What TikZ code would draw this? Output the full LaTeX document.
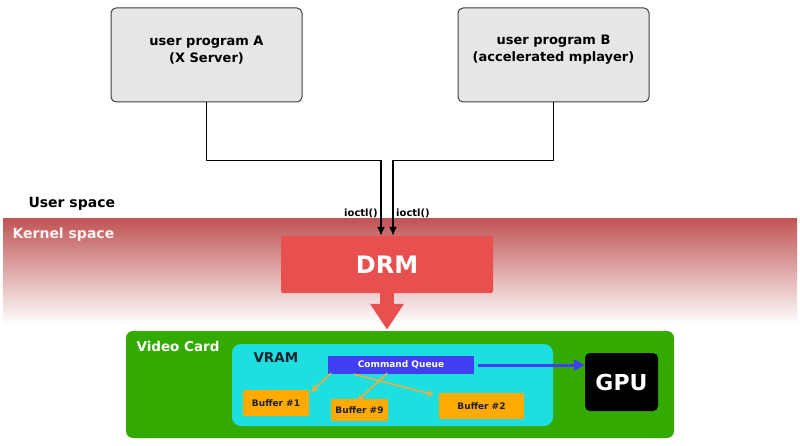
\documentclass[tikz,border=0pt]{standalone}
\usepackage{fontspec}
\setmainfont{DejaVu Sans}
\usetikzlibrary{arrows.meta}
\definecolor{progGray}{HTML}{E6E6E6}
\definecolor{kernelRed}{HTML}{C05555}
\definecolor{drmRed}{HTML}{E85050}
\definecolor{cardGreen}{HTML}{33AA00}
\definecolor{vramCyan}{HTML}{1EDFDF}
\definecolor{queueBlue}{HTML}{4040F2}
\definecolor{bufOrange}{HTML}{FFAA00}
\definecolor{bufArrow}{HTML}{E8B040}
\definecolor{darkText}{HTML}{1A2030}

\begin{document}
\begin{tikzpicture}[x=1pt, y=-1pt,
  prog/.style={draw=black!75, line width=1pt, fill=progGray, rounded corners=5pt, minimum width=191pt, minimum height=94pt, inner sep=0pt},
  buffer/.style={fill=bufOrange, rounded corners=1pt, text=darkText, font=\bfseries\fontsize{9}{10}\selectfont, inner sep=0pt},
  label/.style={font=\bfseries\fontsize{14}{16}\selectfont},
  ioctl/.style={font=\bfseries\fontsize{10}{11}\selectfont, inner sep=1pt}]
\useasboundingbox (0,0) rectangle (800,446);
% kernel band
\shade[top color=kernelRed, bottom color=white] (3,219) rectangle (797,324);
\node[label, anchor=west] at (25,204) {User space};
\node[label, anchor=west, text=white!95!red] at (9,235) {Kernel space};
% user programs
\node[prog] (progA) at (206.5,55) {};
\node[font=\bfseries\fontsize{13}{17}\selectfont, align=center] at (206.5,50) {user program A\\(X Server)};
\node[prog] (progB) at (553.5,55) {};
\node[font=\bfseries\fontsize{13}{17}\selectfont, align=center] at (553.5,50) {user program B\\(accelerated mplayer)};
% DRM
\node[fill=drmRed, rounded corners=2pt, minimum width=212pt, minimum height=57pt, text=white, font=\bfseries\fontsize{24}{28}\selectfont] (drm) at (387,264.5) {DRM};
\draw[line width=1.5pt, -{Latex[length=9pt,width=8pt]}] (progA.south) -- ++(0,58) -| ([xshift=-6pt]drm.north);
\draw[line width=1.5pt, -{Latex[length=9pt,width=8pt]}] (progB.south) -- ++(0,58) -| ([xshift=6pt]drm.north);
\node[ioctl, anchor=east] at (379,213) {ioctl()};
\node[ioctl, anchor=west] at (395,213) {ioctl()};
% video card
\node[fill=cardGreen, rounded corners=7pt, minimum width=548pt, minimum height=107pt] (card) at (400,384.5) {};
\node[text=white, font=\bfseries\fontsize{13.5}{16}\selectfont, anchor=west] at (133,346) {Video Card};
\draw[drmRed, line width=14pt, -{Triangle[width=32pt,length=26pt]}] ([yshift=2pt]drm.south) -- ([yshift=1pt]card.north -| drm.south);
\node[fill=vramCyan, rounded corners=9pt, minimum width=321pt, minimum height=82pt] (vram) at (392.5,385) {};
\node[text=darkText, font=\bfseries\fontsize{13.5}{16}\selectfont, anchor=west] at (250,358) {VRAM};
\node[fill=queueBlue, minimum width=146pt, minimum height=18pt, inner sep=0pt, text=white, font=\bfseries\fontsize{9}{10}\selectfont] (queue) at (401,365) {Command Queue};
\node[fill=black, rounded corners=5pt, minimum width=73pt, minimum height=58pt, text=white, font=\bfseries\fontsize{22}{26}\selectfont] (gpu) at (621.5,382) {GPU};
\draw[queueBlue, line width=3pt, -{Triangle[width=11pt,length=11pt]}] ([xshift=4pt]queue.east) -- (queue.east -| gpu.west);
% buffers
\node[buffer, minimum width=66pt, minimum height=26pt] (buf1) at (276,403) {Buffer \#1};
\node[buffer, minimum width=57pt, minimum height=22pt] (buf9) at (359.5,410) {Buffer \#9};
\node[buffer, minimum width=85pt, minimum height=26pt] (buf2) at (481.5,406) {Buffer \#2};
\draw[bufArrow, line width=1.6pt, -{Triangle[width=6pt,length=6pt]}] ([xshift=-70pt,yshift=1pt]queue.south) -- ([xshift=2pt,yshift=-2pt]buf1.north east);
\draw[bufArrow, line width=1.6pt, -{Triangle[width=6pt,length=6pt]}] ([xshift=-14pt,yshift=1pt]queue.south) -- ([xshift=-2pt,yshift=-2pt]buf9.north);
\draw[bufArrow, line width=1.6pt, -{Triangle[width=6pt,length=6pt]}] ([xshift=-47pt]queue.south) -- ([xshift=-5pt,yshift=-2pt]buf2.north west);
\end{tikzpicture}
\end{document}
